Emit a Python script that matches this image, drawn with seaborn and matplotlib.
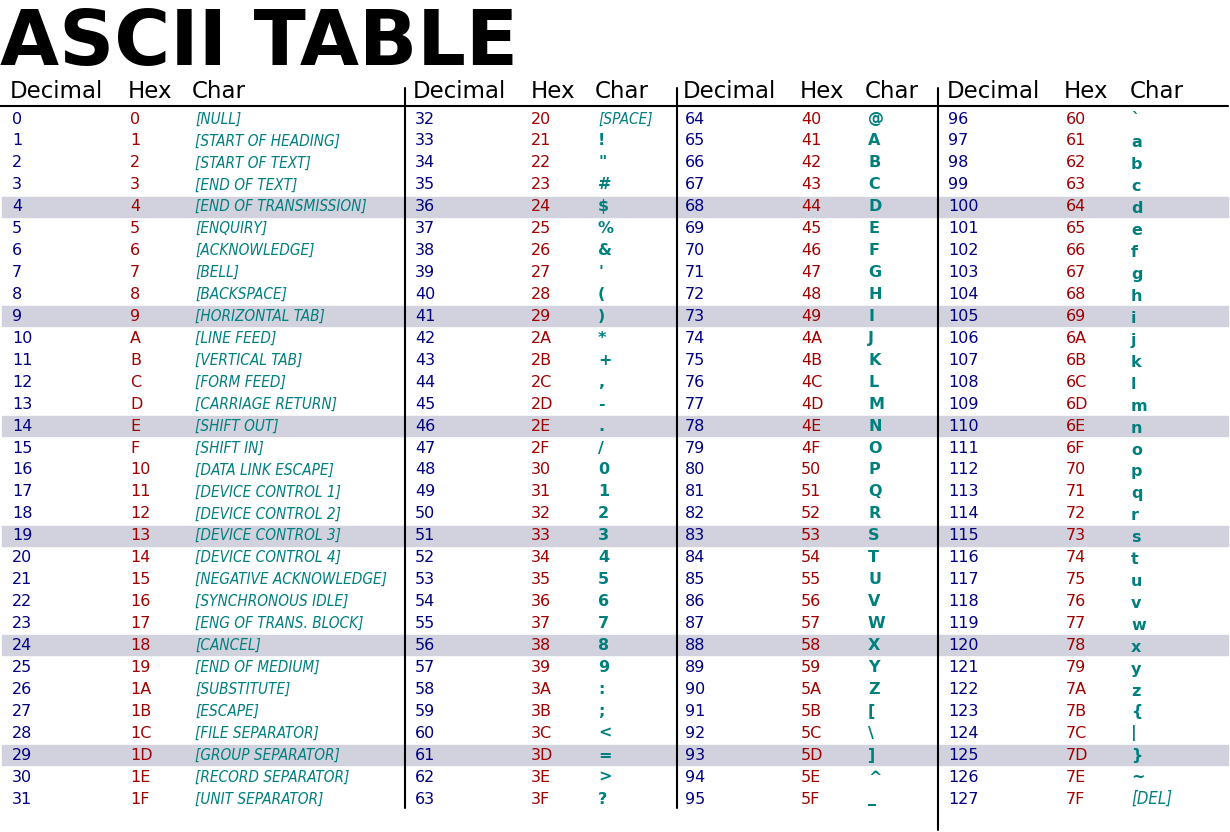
import matplotlib
matplotlib.use("Agg")
import matplotlib.pyplot as plt
import seaborn as sns

sns.set_theme(style="white")
plt.rcParams['font.family'] = ['DejaVu Sans']
plt.rcParams['text.color'] = 'black'

control_names = ["NULL", "START OF HEADING", "START OF TEXT", "END OF TEXT",
                 "END OF TRANSMISSION", "ENQUIRY", "ACKNOWLEDGE", "BELL",
                 "BACKSPACE", "HORIZONTAL TAB", "LINE FEED", "VERTICAL TAB",
                 "FORM FEED", "CARRIAGE RETURN", "SHIFT OUT", "SHIFT IN",
                 "DATA LINK ESCAPE", "DEVICE CONTROL 1", "DEVICE CONTROL 2",
                 "DEVICE CONTROL 3", "DEVICE CONTROL 4", "NEGATIVE ACKNOWLEDGE",
                 "SYNCHRONOUS IDLE", "ENG OF TRANS. BLOCK", "CANCEL", "END OF MEDIUM",
                 "SUBSTITUTE", "ESCAPE", "FILE SEPARATOR", "GROUP SEPARATOR",
                 "RECORD SEPARATOR", "UNIT SEPARATOR"]
printable = list("!\"#$%&'()*+,-./0123456789:;<=>?@ABCDEFGHIJKLMNOPQRSTUVWXYZ"
                 "[\\]^_`abcdefghijklmnopqrstuvwxyz{|}~")
codes = list(range(128))
highlight_rows = [4, 9, 14, 19, 24, 29]
headers = ["Decimal", "Hex", "Char"]

# x positions of the three columns in each group
dec_x = [12, 415, 685, 948]
hex_x = [130, 531, 801, 1066]
chr_x = [195, 598, 868, 1131]
head_x = [(10, 128, 192), (413, 531, 595), (683, 800, 865), (947, 1064, 1130)]

NAVY, RED, TEAL = "#000080", "#a00000", "#007f7f"

fig = plt.figure(figsize=(12.3, 8.32), dpi=100)
ax = fig.add_axes([0, 0, 1, 1])
ax.set_xlim(0, 1230)
ax.set_ylim(832, 0)
ax.axis("off")

ax.text(0, 65, "ASCII TABLE", fontsize=55, fontweight="bold", va="baseline",
        ha="left", color="black")

for g in range(4):
    for x, h in zip(head_x[g], headers):
        ax.text(x, 92, h, fontsize=16.5, va="center", ha="left", color="black")
ax.plot([0, 1228], [106, 106], color="black", lw=1.5)
for x, y1 in [(405, 808), (677, 808), (938, 830)]:
    ax.plot([x, x], [88, y1], color="black", lw=1.5)

row_h = (799 - 119) / 31
for r in highlight_rows:
    y = 119 + r * row_h
    ax.axhspan(y - row_h / 2 + 1, y + row_h / 2 - 1, xmin=2 / 1230, xmax=1228 / 1230,
               color="#d2d2de", zorder=0)

for c in codes:
    g, r = divmod(c, 32)
    y = 119 + r * row_h
    ax.text(dec_x[g], y, str(c), color=NAVY, fontsize=11.5, va="center")
    ax.text(hex_x[g], y, format(c, "X"), color=RED, fontsize=11.5, va="center")
    if c < 32 or c == 127:
        name = "[" + (control_names[c] if c < 32 else "DEL") + "]"
        ax.text(chr_x[g], y, name, color=TEAL, fontsize=12 if c == 127 else 11,
                fontstyle="italic", fontstretch="condensed", va="center")
    elif c == 32:
        ax.text(chr_x[g], y, "[SPACE]", color=TEAL, fontsize=11,
                fontstyle="italic", fontstretch="condensed", va="center")
    else:
        ch = printable[c - 33]
        dy = 2 if ch.islower() else 0
        ax.text(chr_x[g], y + dy, ch, color=TEAL, fontsize=11.5, fontweight="bold",
                va="center")

fig.savefig("out.png", dpi=100, facecolor="white")
